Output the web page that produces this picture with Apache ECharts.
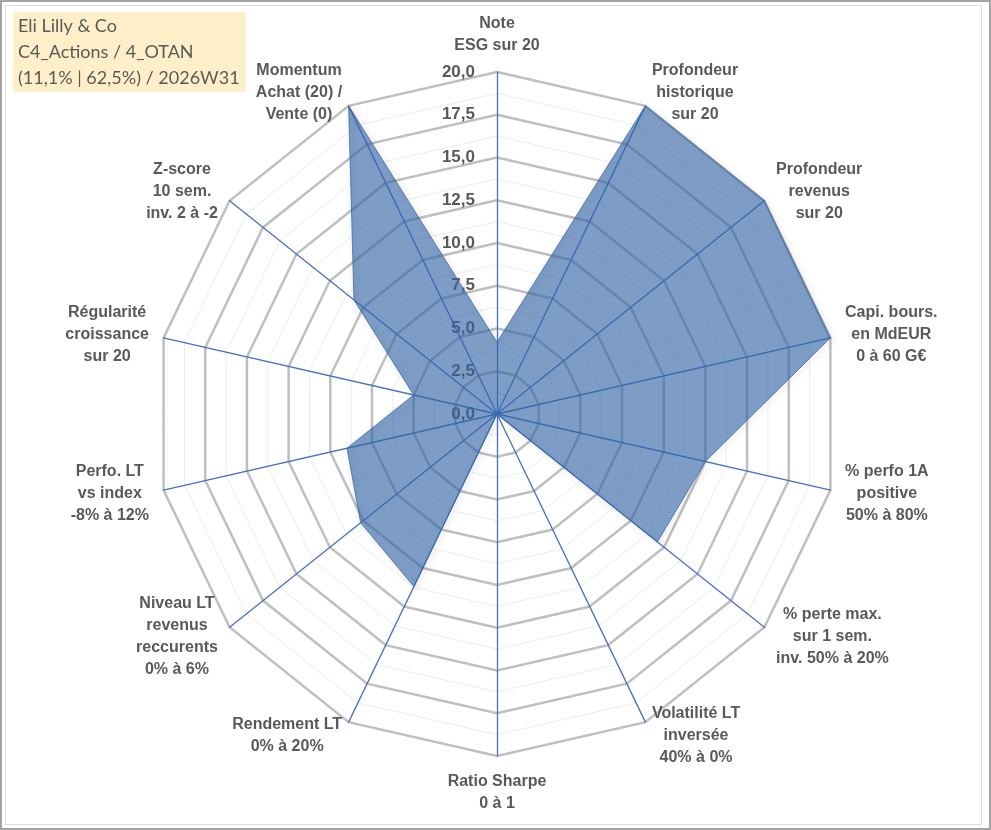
<!DOCTYPE html>
<html>
<head>
<meta charset="utf-8">
<script src="https://cdn.jsdelivr.net/npm/echarts@6/dist/echarts.min.js"></script>
<style>
html,body{margin:0;padding:0;background:#fff;}
#outer{position:absolute;left:0;top:0;width:991px;height:830px;box-sizing:border-box;border:2px solid #a3a3a3;}
#inner{position:absolute;left:5px;top:5px;width:977px;height:820px;box-sizing:border-box;border:1px solid #dcdcdc;}
#chart{position:absolute;left:0;top:0;width:991px;height:830px;}
</style>
</head>
<body>
<div id="outer"></div>
<div id="inner"></div>
<div id="chart"></div>
<script>
// Axes, clockwise from the top
const categories = [
  'Note\nESG sur 20',
  'Profondeur\nhistorique\nsur 20',
  'Profondeur\nrevenus\nsur 20',
  'Capi. bours.\nen MdEUR\n0 à 60 G€',
  '% perfo 1A\npositive\n50% à 80%',
  '% perte max.\nsur 1 sem.\ninv. 50% à 20%',
  'Volatilité LT\ninversée\n40% à 0%',
  'Ratio Sharpe\n0 à 1',
  'Rendement LT\n0% à 20%',
  'Niveau LT\nrevenus\nreccurents\n0% à 6%',
  'Perfo. LT\nvs index\n-8% à 12%',
  'Régularité\ncroissance\nsur 20',
  'Z-score\n10 sem.\ninv. 2 à -2',
  'Momentum\nAchat (20) /\nVente (0)'
];
// Scores (0 to 20), same order
const scores = [4.2, 20, 20, 20, 12.5, 12.0, 0, 0, 11.2, 10.2, 9.0, 5.0, 10.7, 20];
const tickLabels = ['0,0','2,5','5,0','7,5','10,0','12,5','15,0','17,5','20,0'];
const titleLines = ['Eli Lilly & Co', 'C4_Actions / 4_OTAN', '(11,1% | 62,5%) / 2026W31'];

const CX = 497, CY = 414, R = 342;
const n = categories.length;
// ECharts places indicators counter-clockwise: reorder so they run clockwise
const order = [0];
for (let k = n - 1; k >= 1; k--) order.push(k);
const indicator = order.map(i => ({ name: categories[i], min: 0, max: 20 }));
const values = order.map(i => scores[i]);

const nameFont = { color: '#595959', fontFamily: 'Liberation Sans', fontSize: 16, fontWeight: 'bold', lineHeight: 22 };

const chart = echarts.init(document.getElementById('chart'), null, { renderer: 'canvas' });
chart.setOption({
  backgroundColor: 'transparent',
  animation: false,
  title: {
    text: titleLines.join('\n'),
    left: 13, top: 12,
    padding: [1, 6, 1, 5],
    backgroundColor: '#FFEFC9',
    textStyle: { fontFamily: 'Lato', fontSize: 18, fontWeight: 'normal', color: '#595959', lineHeight: 26 }
  },
  grid: { left: CX, top: CY - R, height: R, width: 1 },
  xAxis: { type: 'value', show: false },
  yAxis: {
    type: 'value', min: 0, max: 20, interval: 2.5, position: 'left',
    axisLine: { show: false }, axisTick: { show: false }, splitLine: { show: false },
    axisLabel: {
      margin: 22, fontFamily: 'Liberation Sans', fontSize: 17, fontWeight: 'bold', color: '#595959',
      formatter: v => tickLabels[Math.round(v / 2.5)]
    }
  },
  radar: [
    {
      center: [CX, CY], radius: R, startAngle: 90, shape: 'polygon', splitNumber: 16,
      indicator: indicator.map(d => ({ name: '', min: d.min, max: d.max })),
      axisName: { show: false },
      axisLine: { show: false },
      splitArea: { show: false },
      splitLine: { lineStyle: { color: '#ececec', width: 1 } }
    },
    {
      center: [CX, CY], radius: R, startAngle: 90, shape: 'polygon', splitNumber: 8,
      indicator: indicator,
      nameGap: 15,
      axisName: Object.assign({}, nameFont, {
        formatter: name => name.split('\n').map(l => '{c|' + l + '}').join('\n'),
        rich: { c: Object.assign({ align: 'center' }, nameFont) }
      }),
      axisLine: { lineStyle: { color: '#4472C4', width: 1.3 } },
      splitArea: { show: false },
      splitLine: { lineStyle: { color: '#bfbfbf', width: 2.5 } }
    }
  ],
  series: [{
    type: 'radar',
    radarIndex: 1,
    symbol: 'none',
    lineStyle: {
      color: 'rgba(70,110,170,0.8)', width: 1,
      shadowBlur: 6, shadowColor: 'rgba(0,0,0,0.45)', shadowOffsetX: 2, shadowOffsetY: 2
    },
    areaStyle: { color: '#3264A5', opacity: 0.63 },
    data: [{ value: values, name: 'Eli Lilly & Co' }]
  }]
});
</script>
</body>
</html>
